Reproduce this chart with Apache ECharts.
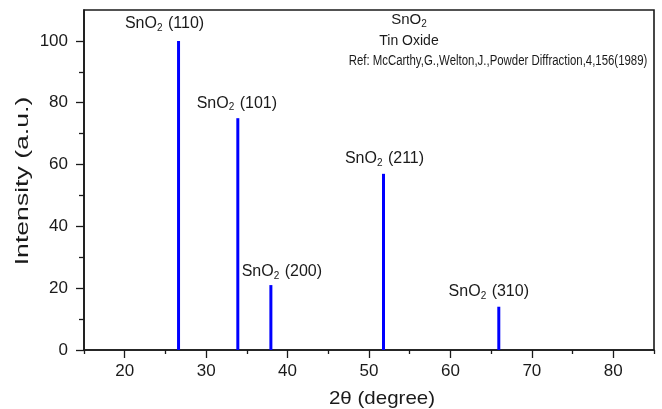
<!DOCTYPE html>
<html>
<head>
<meta charset="utf-8">
<script src="https://cdn.jsdelivr.net/npm/echarts@6/dist/echarts.min.js"></script>
<style>html,body{margin:0;padding:0;background:#fff}#c{width:662px;height:409px}</style>
</head>
<body>
<div id="c"></div>
<script>
// Peak positions (2θ, degree) and relative intensities
const peakAngles = [26.61, 33.89, 37.95, 51.78, 65.94];
const peakIntensity = [100, 75, 21, 57, 14];
const peakHkl = ['(110)', '(101)', '(200)', '(211)', '(310)'];
const xTicks = [20, 30, 40, 50, 60, 70, 80];
const xMinorTicks = [15, 25, 35, 45, 55, 65, 75, 85];
const yTicks = [0, 20, 40, 60, 80, 100];
const yMinorTicks = [10, 30, 50, 70, 90];

const labelOffsets = [[-14, -2], [-1, 0], [11, 2], [1, 0], [-10, 0]];
const ink = '#1a1a1a';
const FONT = 'Liberation Sans, Arial, sans-serif';
const rich = {
  t: {fontSize: 16, fontFamily: FONT, color: ink, lineHeight: 18},
  s: {fontSize: 10, fontFamily: FONT, color: ink, lineHeight: 18, padding: [9, 1, 0, 0]}
};

const chart = echarts.init(document.getElementById('c'), null, {renderer: 'canvas'});
const barData = peakAngles.map((a, i) => ({
  value: [a, peakIntensity[i]],
  label: {offset: labelOffsets[i]},
  hkl: peakHkl[i]
}));

const option = {
  animation: false,
  grid: {left: 84, right: 8, top: 10, bottom: 59, show: true, borderColor: ink, borderWidth: 1.6, backgroundColor: 'transparent'},
  xAxis: [{
    type: 'value', min: 15, max: 85, interval: 5,
    axisLine: {onZero: false, lineStyle: {color: ink, width: 1.6}},
    axisTick: {show: true, length: 8, customValues: xTicks, lineStyle: {color: ink, width: 1.3}},
    axisLabel: {customValues: xTicks, margin: 13, fontSize: 17, fontFamily: FONT, color: ink},
    splitLine: {show: false}
  }, {
    type: 'value', min: 15, max: 85, position: 'bottom',
    axisLine: {show: false, onZero: false},
    axisTick: {show: true, length: 4, customValues: xMinorTicks, lineStyle: {color: ink, width: 1.3}},
    axisLabel: {show: false},
    splitLine: {show: false}
  }],
  yAxis: [{
    type: 'value', min: 0, max: 110, interval: 10,
    axisLine: {show: true, onZero: false, lineStyle: {color: ink, width: 1.6}},
    axisTick: {show: true, length: 8, customValues: yTicks, lineStyle: {color: ink, width: 1.3}},
    axisLabel: {customValues: yTicks, margin: 16, fontSize: 17, fontFamily: FONT, color: ink},
    splitLine: {show: false}
  }, {
    type: 'value', min: 0, max: 110, position: 'left',
    axisLine: {show: false, onZero: false},
    axisTick: {show: true, length: 5, customValues: yMinorTicks, lineStyle: {color: ink, width: 1.3}},
    axisLabel: {show: false},
    splitLine: {show: false}
  }],
  series: [{
    type: 'bar', xAxisIndex: 0, yAxisIndex: 0,
    barWidth: 3,
    itemStyle: {color: '#0000ff'},
    label: {
      show: true, position: 'top', distance: 6,
      formatter: p => '{t|SnO}{s|2}{t| ' + p.data.hkl + '}',
      rich: rich
    },
    data: barData
  }],
  graphic: [
    {type: 'text', x: 409, y: 20, style: {text: '{t|SnO}{s|2}', rich: {
      t: {fontSize: 15, fontFamily: FONT, fill: ink, lineHeight: 18},
      s: {fontSize: 10, fontFamily: FONT, fill: ink, lineHeight: 18, padding: [9, 0, 0, 0]}}, align: 'center', verticalAlign: 'middle'}},
    {type: 'text', x: 409, y: 41, style: {text: 'Tin Oxide', font: '14px ' + FONT, fill: ink, align: 'center', verticalAlign: 'middle'}},
    {type: 'text', x: 498, y: 61, scaleX: 0.815, style: {text: 'Ref: McCarthy,G.,Welton,J.,Powder Diffraction,4,156(1989)', font: '14px ' + FONT, fill: ink, align: 'center', verticalAlign: 'middle'}},
    {type: 'text', x: 23, y: 181, rotation: Math.PI / 2, scaleX: 1.4, style: {text: 'Intensity (a.u.)', font: '19px ' + FONT, fill: ink, align: 'center', verticalAlign: 'middle'}},
    {type: 'text', x: 382, y: 399, scaleX: 1.08, style: {text: '2θ (degree)', font: '19px ' + FONT, fill: ink, align: 'center', verticalAlign: 'middle'}}
  ]
};
chart.setOption(option);
</script>
</body>
</html>
